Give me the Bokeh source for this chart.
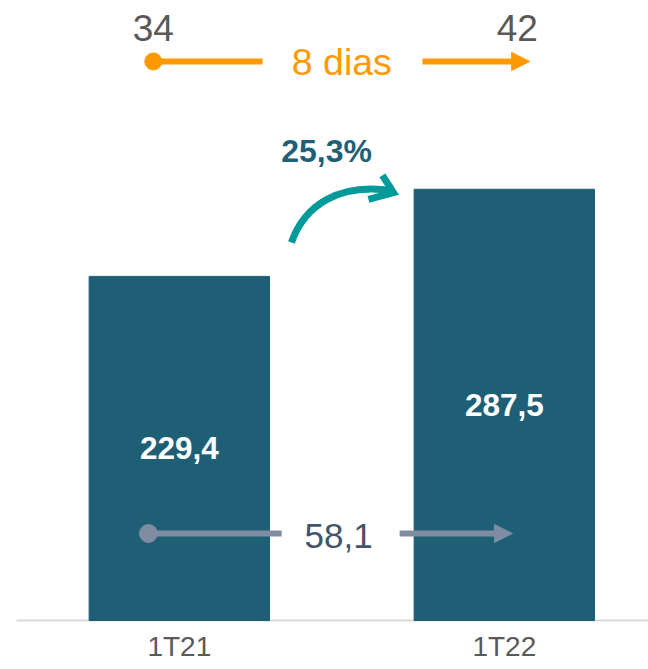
from bokeh.plotting import figure
from bokeh.models import Range1d, Arrow, NormalHead
from bokeh.core.properties import value
from bokeh.embed import file_html
from bokeh.resources import INLINE

# ---- data ----
categories = ["1T21", "1T22"]
receivables = [229.4, 287.5]
days = [34, 42]

# ---- styles ----
BAR = "#1F5F76"
ORANGE = "#FF9900"
GRAY_TXT = "#595959"
TEAL = "#009A9A"
ARROW_GRAY = "#7F8CA2"
DARK_TXT = "#44546A"
FONT = "Liberation Sans"

def fmt(v, d=1):
    return f"{v:.{d}f}".replace(".", ",")

idx = list(range(len(categories)))
growth = (receivables[1] / receivables[0] - 1) * 100
diff_val = receivables[1] - receivables[0]
diff_days = days[1] - days[0]

p = figure(width=648, height=669, output_backend="svg", toolbar_location=None,
           x_range=Range1d(-0.5502, 1.4437), y_range=Range1d(-32.67, 413.33),
           min_border=0, min_border_left=0, min_border_right=0,
           min_border_top=0, min_border_bottom=0,
           x_axis_type=None, y_axis_type=None)
p.outline_line_color = None
p.xgrid.visible = False
p.ygrid.visible = False
p.background_fill_color = "white"

# baseline
p.segment(x0=[-0.501], y0=[0], x1=[1.4437], y1=[0], line_color="#D9D9D9", line_width=2)

# bars
p.vbar(x=idx, top=receivables, width=0.555, fill_color=BAR, line_color=BAR)

# bar value labels
p.text(x=idx, y=[v / 2 for v in receivables], text=[fmt(v) for v in receivables],
       text_font=value(FONT), text_font_style="bold", text_font_size="31.5px",
       text_color="white", text_align="center", text_baseline="middle")

# category labels
p.text(x=idx, y=[-7.3, -7.3], text=categories, text_font=value(FONT),
       text_font_size="28px", text_color=GRAY_TXT, text_align="center",
       text_baseline="top")

# ---- days arrow (top) ----
p.text(x=[-0.08, 1.04], y=[395, 395], text=[str(d) for d in days], text_font=value(FONT),
       text_font_size="37px", text_color=GRAY_TXT, text_align="center",
       text_baseline="middle")
p.segment(x0=[-0.08], y0=[372.7], x1=[0.256], y1=[372.7], line_color=ORANGE, line_width=6)
p.scatter(x=[-0.08], y=[372.7], size=17, fill_color=ORANGE, line_color=ORANGE)
p.add_layout(Arrow(x_start=0.748, y_start=372.7, x_end=1.078, y_end=372.7,
                   line_color=ORANGE, line_width=6,
                   end=NormalHead(size=18, fill_color=ORANGE, line_color=ORANGE)))
p.text(x=[0.5], y=[372], text=[f"{diff_days} dias"], text_font=value(FONT),
       text_font_size="37.5px", text_color=ORANGE, text_align="center",
       text_baseline="middle")

# ---- growth curved arrow ----
p.text(x=[0.453], y=[312.7], text=[fmt(growth) + "%"], text_font=value(FONT),
       text_font_style="bold", text_font_size="32px", text_color="#1F5F78",
       text_align="center", text_baseline="middle")
p.bezier(x0=[0.345], y0=[252], x1=[0.655], y1=[286.5],
         cx0=[0.385], cy0=[276.7], cx1=[0.49], cy1=[292],
         line_color=TEAL, line_width=7)
p.multi_line(xs=[[0.625, 0.659, 0.582]], ys=[[296.7, 285.3, 280.7]],
             line_color=TEAL, line_width=7, line_join="miter")

# ---- difference arrow (inside bars) ----
p.segment(x0=[-0.095], y0=[58], x1=[0.315], y1=[58], line_color=ARROW_GRAY, line_width=6)
p.scatter(x=[-0.095], y=[58], size=18, fill_color=ARROW_GRAY, line_color=ARROW_GRAY)
p.add_layout(Arrow(x_start=0.678, y_start=58, x_end=1.025, y_end=58,
                   line_color=ARROW_GRAY, line_width=6,
                   end=NormalHead(size=18, fill_color=ARROW_GRAY, line_color=ARROW_GRAY)))
p.text(x=[0.49], y=[56.3], text=[fmt(diff_val)], text_font=value(FONT),
       text_font_size="35px", text_color=DARK_TXT, text_align="center",
       text_baseline="middle")

open("out.html", "w").write(file_html(p, INLINE))
